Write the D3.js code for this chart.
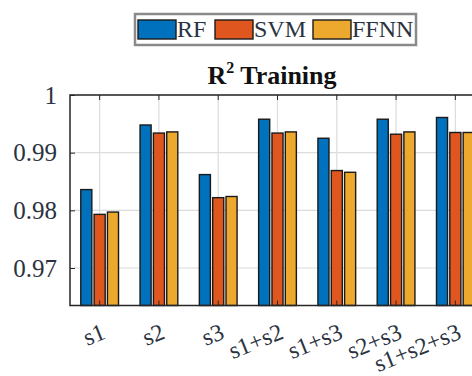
<!DOCTYPE html>
<html><head><meta charset="utf-8">
<script src="https://cdn.jsdelivr.net/npm/d3@7"></script>
<style>html,body{margin:0;padding:0;background:#fff;overflow:hidden}
svg text{font-family:'Liberation Serif','Times New Roman',serif}</style>
</head><body>
<svg id="chart" width="472" height="376"></svg>
<script>
const categories = ["s1","s2","s3","s1+s2","s1+s3","s2+s3","s1+s2+s3"];
const seriesNames = ["RF","SVM","FFNN"];
const RF   = [0.9836, 0.9948, 0.9862, 0.9958, 0.9925, 0.9958, 0.9961];
const SVM  = [0.9793, 0.9934, 0.9822, 0.9934, 0.9869, 0.9932, 0.9935];
const FFNN = [0.9797, 0.9936, 0.9824, 0.9936, 0.9866, 0.9936, 0.9935];
const yTicks = [0.97, 0.98, 0.99, 1];
const yTickLabels = ["0.97","0.98","0.99","1"];
const colors = ["#0072BD","#E0561F","#EDA92E"];
const values = [RF, SVM, FFNN];

const svg = d3.select("#chart");
const L = 70, R = 485, T = 95, B = 305.5;
const font = "'Liberation Serif','Times New Roman',serif";

const x = d3.scaleBand().domain(categories).range([L, R]).padding(0);
const xi = d3.scaleBand().domain(seriesNames).range([-20, 20]).paddingInner(0.17).paddingOuter(0.085);
const y = d3.scaleLinear().domain([0.9635, 1]).range([B, T]);

// grid
const g = svg.append("g");
g.selectAll(".gy").data(yTicks).enter().append("line")
  .attr("x1", L).attr("x2", R).attr("y1", d => y(d)).attr("y2", d => y(d))
  .attr("stroke", "#dcdcdc").attr("stroke-width", 1.2);
g.selectAll(".gx").data(categories).enter().append("line")
  .attr("x1", d => x(d) + x.bandwidth()/2).attr("x2", d => x(d) + x.bandwidth()/2)
  .attr("y1", T).attr("y2", B)
  .attr("stroke", "#dcdcdc").attr("stroke-width", 1.2);

// bars
const rows = [];
categories.forEach((c, i) => seriesNames.forEach((s, j) => rows.push({c, s, j, v: values[j][i]})));
svg.append("g").selectAll("rect").data(rows).enter().append("rect")
  .attr("x", d => x(d.c) + x.bandwidth()/2 + xi(d.s))
  .attr("width", xi.bandwidth())
  .attr("y", d => y(d.v))
  .attr("height", d => B - y(d.v))
  .attr("fill", d => colors[d.j])
  .attr("stroke", "#1a1a1a").attr("stroke-width", 1.4);

// axes frame
const ax = svg.append("g").attr("stroke", "#262626").attr("fill", "none");
ax.append("path").attr("d", `M${R},${T}H${L}V${B}H${R}`).attr("stroke-width", 1.5);

// y ticks inward
const yAxis = d3.axisLeft(y).tickValues(yTicks).tickSize(-5).tickFormat((d, i) => yTickLabels[i]).tickPadding(13);
const ya = svg.append("g").attr("transform", `translate(${L},0)`).call(yAxis);
ya.attr("font-family", null).attr("font-size", null);
ya.select(".domain").remove();
ya.selectAll("line").attr("stroke", "#262626");
ya.selectAll("text").style("font-family", font).style("font-size", "25px").attr("fill", "#2b3340");

// x ticks inward, bottom and top
const xAxis = d3.axisBottom(x).tickSize(-5).tickFormat("");
const xa = svg.append("g").attr("transform", `translate(0,${B})`).call(xAxis);
xa.select(".domain").remove();
xa.selectAll("line").attr("stroke", "#262626");
const xAxisTop = d3.axisTop(x).tickSize(-5).tickFormat("");
const xt = svg.append("g").attr("transform", `translate(0,${T})`).call(xAxisTop);
xt.select(".domain").remove();
xt.selectAll("line").attr("stroke", "#262626");

// rotated x labels
svg.append("g").selectAll("text").data(categories).enter().append("text")
  .attr("transform", d => `translate(${x(d) + x.bandwidth()/2 + 1},${B + 17}) rotate(-22)`)
  .attr("text-anchor", "end").attr("dominant-baseline", "hanging")
  .style("font-family", font).style("font-size", "24px").attr("fill", "#2b3340")
  .text(d => d);

// title
const title = svg.append("text").attr("x", 272).attr("y", 84)
  .attr("text-anchor", "middle").style("font-family", font).style("font-size", "26px")
  .attr("font-weight", "bold").attr("fill", "#111");
title.append("tspan").text("R");
title.append("tspan").style("font-size", "16px").attr("dy", -11).text("2");
title.append("tspan").attr("dy", 11).text(" Training");

// legend
const lg = svg.append("g");
lg.append("rect").attr("x", 135).attr("y", 14).attr("width", 281).attr("height", 31)
  .attr("fill", "#fff").attr("stroke", "#8a8a8a").attr("stroke-width", 2.5);
const legX = [138, 215, 313];
seriesNames.forEach((s, j) => {
  lg.append("rect").attr("x", legX[j]).attr("y", 20).attr("width", 38).attr("height", 19)
    .attr("fill", colors[j]).attr("stroke", "#1a1a1a").attr("stroke-width", 1.4);
  lg.append("text").attr("x", legX[j] + 39).attr("y", 37)
    .style("font-family", font).style("font-size", "24px").attr("fill", "#2b3340").text(s);
});
</script>
</body></html>
